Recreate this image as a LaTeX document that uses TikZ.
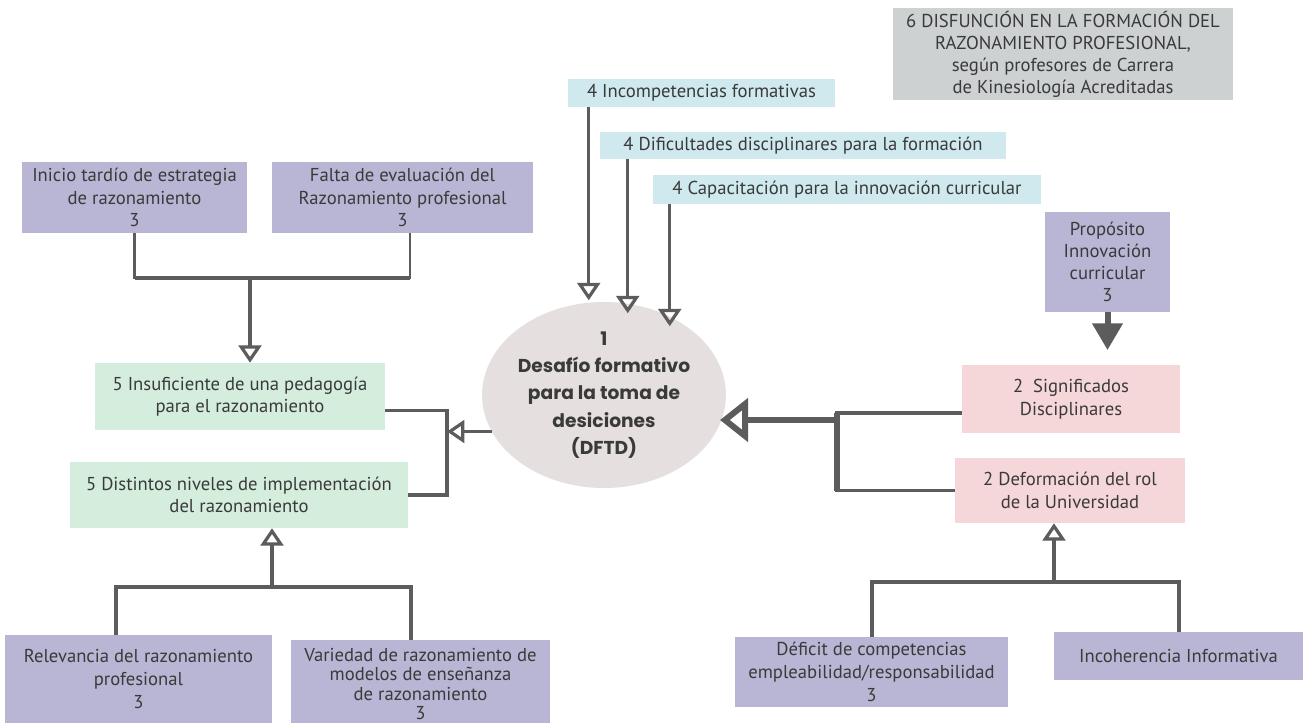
\documentclass[tikz,border=0pt]{standalone}
\usepackage{fontspec}
\setmainfont{PT Sans}
\newfontfamily\circfont{Poppins}
\usetikzlibrary{arrows.meta,shapes.geometric}

\definecolor{lilac}{HTML}{B8B6D4}
\definecolor{mint}{HTML}{D4EDDD}
\definecolor{aqua}{HTML}{CFE9EE}
\definecolor{ash}{HTML}{CDD1D1}
\definecolor{rose}{HTML}{F5D6D9}
\definecolor{shell}{HTML}{E6DFDF}
\definecolor{wire}{HTML}{5C5C5C}
\definecolor{ink}{HTML}{3A3A3A}

\tikzset{
  box/.style={inner sep=0pt, align=center, text=ink, font=\fontsize{14}{17}\selectfont},
  link/.style={draw=wire, line width=2.4pt},
  heavy/.style={draw=wire, line width=4.5pt},
  openarr/.style={link, -{Triangle[open, length=13pt, width=17pt]}},
  fatarr/.style={draw=wire, line width=4.5pt, -{Triangle[length=20pt, width=22pt]}},
  bigopen/.style={draw=wire, line width=4.5pt, -{Triangle[open, length=21pt, width=32pt]}}
}

\begin{document}
\begin{tikzpicture}[x=0.75pt,y=0.75pt,yscale=-1,xscale=1]

            \fill[white] (0,0) rectangle (1303,723);
            \useasboundingbox (0,0) rectangle (1303,723);

            % Title
            \node[box, fill=ash, minimum width=255pt, minimum height=69pt, font=\fontsize{14}{16.5}\selectfont] (disf) at (1063,54) {6 DISFUNCIÓN EN LA FORMACIÓN DEL\\RAZONAMIENTO PROFESIONAL,\\según profesores de Carrera\\de Kinesiología Acreditadas};

            % Central challenge
            \node[ellipse, fill=shell, inner sep=0pt, minimum width=168pt, minimum height=139.5pt, align=center, text=ink, font=\circfont\bfseries\fontsize{14}{20.5}\selectfont] (dftd) at (604,395) {1\\Desafío formativo\\para la toma de\\desiciones\\(DFTD)};

            % Category 4
            \node[box, fill=aqua, minimum width=200.25pt, minimum height=21pt] (cyan1) at (701.5,93) {4 Incompetencias formativas};
            \node[box, fill=aqua, minimum width=304.5pt, minimum height=20.25pt] (cyan2) at (803,145.5) {4 Dificultades disciplinares para la formación};
            \node[box, fill=aqua, minimum width=291pt, minimum height=21.75pt] (cyan3) at (847,189.5) {4 Capacitación para la innovación curricular};

            % Left branch
            \node[box, fill=lilac, minimum width=168.75pt, minimum height=53.25pt] (inicio) at (134.5,197.5) {Inicio tardío de estrategia\\de razonamiento\\3};
            \node[box, fill=lilac, minimum width=195.75pt, minimum height=53.25pt] (falta) at (402.5,197.5) {Falta de evaluación del\\Razonamiento profesional\\3};
            \node[box, fill=mint, minimum width=217.5pt, minimum height=50.25pt] (green1) at (240,396.5) {5 Insuficiente de una pedagogía\\para el razonamiento};
            \node[box, fill=mint, minimum width=253.5pt, minimum height=49.5pt] (green2) at (239,495) {5 Distintos niveles de implementación\\del razonamiento};
            \node[box, fill=lilac, minimum width=200.25pt, minimum height=66pt] (relev) at (138.5,679) {Relevancia del razonamiento\\profesional\\3};
            \node[box, fill=lilac, minimum width=194.25pt, minimum height=66pt, font=\fontsize{14}{14.5}\selectfont] (varied) at (420.5,684) {Variedad de razonamiento de\\modelos de enseñanza\\de razonamiento\\3};

            % Right branch
            \node[box, fill=lilac, minimum width=93.75pt, minimum height=75pt, font=\fontsize{14}{16.5}\selectfont] (prop) at (1107.5,262) {Propósito\\Innovación\\curricular\\3};
            \node[box, fill=rose, minimum width=163.5pt, minimum height=51pt] (sig) at (1071,399) {2~~Significados\\Disciplinares};
            \node[box, fill=rose, minimum width=172.5pt, minimum height=48.75pt] (def) at (1070,490.5) {2 Deformación del rol\\de la Universidad};
            \node[box, fill=lilac, minimum width=204.75pt, minimum height=52.5pt] (deficit) at (871.5,672) {Déficit de competencias\\empleabilidad/responsabilidad\\3};
            \node[box, fill=lilac, minimum width=186.75pt, minimum height=36pt] (incoh) at (1178.5,656) {Incoherencia Informativa};

            % Junctions
            \coordinate (jtl) at (250,278);
            \coordinate (jml) at (447,430);
            \coordinate (jbl) at (272,587);
            \coordinate (jmr) at (837,420);
            \coordinate (jbr) at (1054,582);
            \coordinate (fdrop) at ([xshift=5.6pt]falta.south);

            % Left connectors
            \draw[link, line width=1.8pt] (inicio.south) |- (jtl) -| (fdrop);
            \draw[heavy, line width=3.6pt] (inicio.south |- jtl) -- (jtl -| fdrop);
            \draw[openarr] (jtl) -- (jtl |- green1.north);
            \draw[link] ([yshift=10.5pt]green1.east) -| (jml) |- (green2.east);
            \draw[openarr] (dftd.198) -- (dftd.198 -| jml);
            \draw[openarr] (jbl) -- (jbl |- green2.south);
            \draw[link, line width=3pt] ([xshift=-16.9pt]relev.north) |- (jbl) -| ([xshift=-7pt]varied.north);

            % Top connectors
            \draw[openarr] ([xshift=15.75pt]cyan1.south west) -- ++(0,193);
            \draw[openarr] ([xshift=21pt]cyan2.south west) -- ++(0,154);
            \draw[openarr] ([xshift=12.75pt]cyan3.south west) -- ++(0,122);

            % Right connectors
            \draw[fatarr] (prop.south) -- ([yshift=-11pt]prop.south |- sig.north);
            \draw[link] ([yshift=10.5pt]sig.west) -| (jmr) |- (def.west);
            \draw[heavy] ([yshift=10.5pt]sig.west -| jmr) -- (def.west -| jmr);
            \draw[bigopen] (jmr) -- ++(-117,0);
            \draw[openarr] (jbr) -- (jbr |- def.south);
            \draw[link, line width=3pt] (deficit.north) |- (jbr) -| (incoh.north);

\end{tikzpicture}
\end{document}
